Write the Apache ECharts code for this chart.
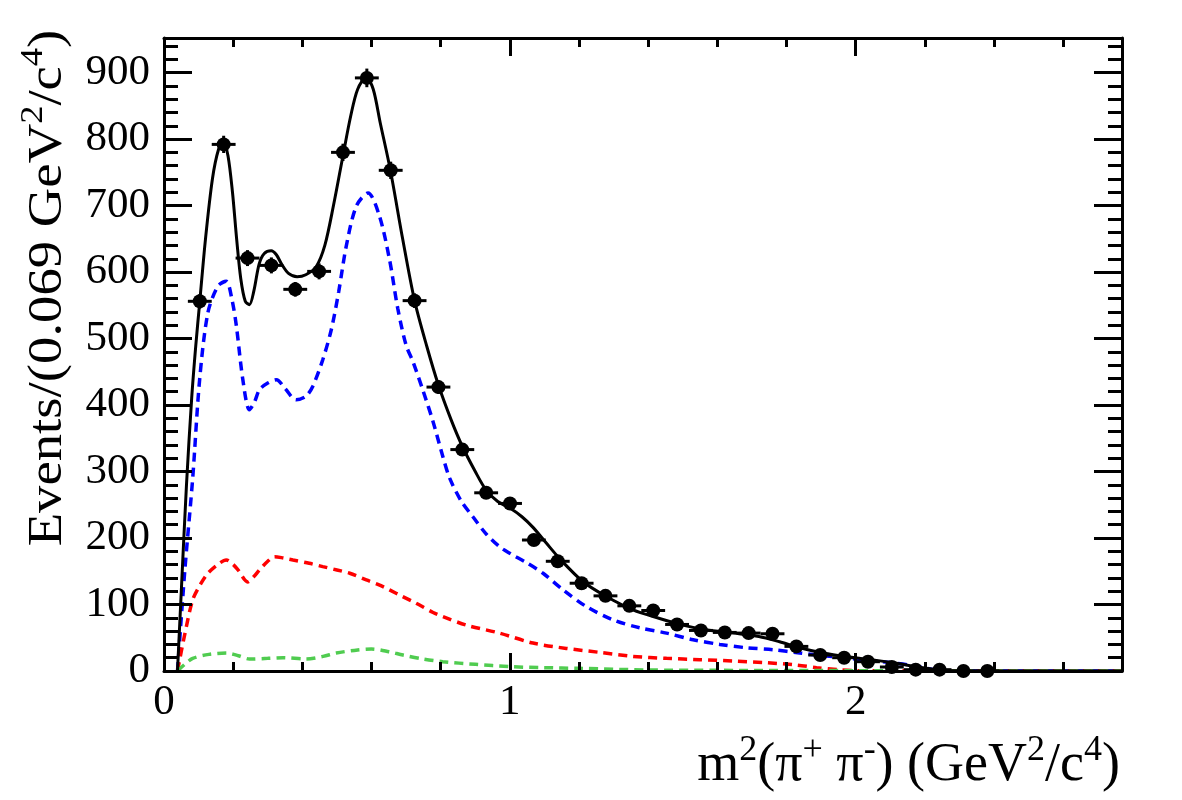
<!DOCTYPE html>
<html>
<head>
<meta charset="utf-8">
<script src="https://cdn.jsdelivr.net/npm/echarts@6/dist/echarts.min.js"></script>
<style>
  html, body { margin: 0; padding: 0; background: #fff; }
  #main { width: 1182px; height: 800px; }
</style>
</head>
<body>
<div id="main"></div>
<script>
  // 数据：m2(pi+ pi-) 分布，bin 宽 0.069
  const binWidth = 0.069
  const binCenters = [0.1035, 0.1725, 0.2415, 0.3105, 0.3795, 0.4485, 0.5175, 0.5865, 0.6555, 0.7245,
    0.7935, 0.8625, 0.9315, 1.0005, 1.0695, 1.1385, 1.2075, 1.2765, 1.3455, 1.4145,
    1.4835, 1.5525, 1.6215, 1.6905, 1.7595, 1.8285, 1.8975, 1.9665, 2.0355, 2.1045,
    2.1735, 2.2425, 2.3115, 2.3805]
  const events = [556, 792, 621, 610, 574, 601, 780, 892, 753, 557,
    427, 333, 268, 252, 197, 165, 132, 113, 98, 91,
    70, 61, 58, 57, 56, 37, 24, 20, 14, 6,
    2, 2, 0, 0]
  const eventErrors = [11, 13, 12, 12, 11, 12, 13, 14, 13, 11,
    10, 9, 8, 8, 7, 6, 6, 5, 5, 5,
    4, 4, 4, 4, 4, 3, 3, 2, 2, 2,
    1, 1, 1, 1]

  // 拟合曲线 [x, y]
  const totalFit = [[0.039, 0], [0.05, 120], [0.065, 280], [0.08, 410], [0.092, 490], [0.1035, 556], [0.12, 650],
    [0.14, 740], [0.158, 785], [0.172, 795], [0.185, 775], [0.198, 720], [0.21, 650], [0.222, 590], [0.235, 556],
    [0.247, 551], [0.26, 572], [0.275, 612], [0.29, 628], [0.31, 632], [0.325, 626], [0.34, 612], [0.36, 598],
    [0.385, 593], [0.41, 596], [0.44, 608], [0.465, 640], [0.49, 700], [0.5175, 775], [0.54, 835], [0.56, 875],
    [0.585, 893], [0.605, 875], [0.625, 825], [0.655, 752], [0.69, 650], [0.7245, 557], [0.76, 488], [0.7935, 430],
    [0.83, 378], [0.8625, 338], [0.9, 300], [0.9315, 272], [0.965, 255], [1.0, 245], [1.035, 232], [1.067, 216],
    [1.106, 192], [1.144, 169], [1.21, 135], [1.279, 112], [1.356, 92], [1.433, 79], [1.5, 69], [1.567, 62],
    [1.645, 57], [1.72, 52], [1.78, 44], [1.838, 35], [1.906, 27], [1.974, 21.5], [2.04, 17.5], [2.108, 12.5],
    [2.176, 6.5], [2.243, 1.5], [2.3, 0], [2.77, 0]]
  const blueCurve = [[0.039, 0], [0.06, 150], [0.083, 290], [0.103, 438], [0.127, 539], [0.156, 579], [0.18, 586],
    [0.196, 560], [0.209, 520], [0.228, 438], [0.247, 393], [0.262, 405], [0.276, 423], [0.3, 433], [0.325, 438],
    [0.35, 425], [0.382, 408], [0.41, 413], [0.43, 428], [0.459, 468], [0.484, 514], [0.505, 570], [0.527, 639],
    [0.556, 699], [0.59, 719], [0.623, 684], [0.652, 619], [0.676, 545], [0.7, 490], [0.72, 465], [0.75, 420],
    [0.778, 375], [0.806, 323], [0.826, 290], [0.86, 255], [0.893, 232], [0.93, 207], [0.97, 187], [1.0, 177],
    [1.048, 163], [1.096, 147], [1.154, 122], [1.221, 97], [1.298, 77], [1.375, 65], [1.453, 57], [1.53, 47],
    [1.607, 40], [1.684, 35], [1.761, 32], [1.838, 27], [1.887, 24], [1.983, 19], [2.079, 14], [2.156, 9],
    [2.234, 1.5], [2.26, 0], [2.77, 0]]
  const redCurve = [[0.039, 0], [0.06, 55], [0.083, 107], [0.105, 130], [0.127, 147], [0.155, 160], [0.18, 167],
    [0.2, 160], [0.214, 152], [0.242, 134], [0.26, 142], [0.276, 152], [0.3, 165], [0.32, 172], [0.345, 170],
    [0.373, 167], [0.42, 162], [0.459, 157], [0.5, 152], [0.537, 147], [0.585, 137], [0.62, 130], [0.652, 122],
    [0.69, 112], [0.729, 102], [0.778, 88], [0.806, 82], [0.874, 69], [0.97, 57], [1.067, 42], [1.163, 34],
    [1.26, 28], [1.356, 22], [1.453, 19], [1.549, 17], [1.645, 15], [1.742, 12.5], [1.829, 9], [1.887, 5],
    [1.95, 2], [2.0, 0.5], [2.77, 0]]
  const greenCurve = [[0.039, 0], [0.06, 10], [0.083, 19], [0.13, 25], [0.18, 27], [0.215, 23], [0.247, 18],
    [0.3, 19], [0.344, 20], [0.411, 18], [0.46, 22], [0.498, 27], [0.55, 31], [0.6, 33], [0.65, 29], [0.691, 24],
    [0.75, 18], [0.806, 14], [0.9, 10], [1.0, 6.5], [1.1, 5], [1.2, 4], [1.4, 1.5], [1.6, 1], [2.0, 0.5],
    [2.3, 0], [2.77, 0]]

  // 坐标轴范围
  const xMin = 0, xMax = 2.77, xMajor = 1
  const yMin = 0, yMax = 952, yMajor = 100

  const font = 'Liberation Serif'

  // 坐标轴：主刻度 + 次刻度（ROOT 风格内刻度，四边框），放在最上层
  function mainAxis(type, position, interval, tickLen, showLabel) {
    let isX = type === 'x'
    return {
      type: 'value',
      position: position,
      z: 10,
      min: isX ? xMin : yMin,
      max: isX ? xMax : yMax,
      interval: interval,
      axisLine: { show: true, onZero: false, lineStyle: { color: '#000', width: 3 } },
      axisTick: { show: true, inside: true, length: tickLen, lineStyle: { color: '#000', width: 3 } },
      minorTick: { show: true, splitNumber: 5, length: tickLen / 2, lineStyle: { color: '#000', width: 3 } },
      axisLabel: {
        show: showLabel,
        color: '#000',
        fontFamily: font,
        fontSize: 43,
        margin: isX ? 10 : 14,
        showMaxLabel: false
      },
      splitLine: { show: false },
      minorSplitLine: { show: false }
    }
  }

  let mycharts = echarts.init(document.getElementById('main'))

  function curve(data, color, dashed, width, z) {
    return {
      type: 'line',
      data: data,
      showSymbol: false,
      smooth: 0.3,
      z: z,
      lineStyle: { color: color, width: width, type: dashed ? [9, 6] : 'solid' }
    }
  }

  mycharts.setOption({
    backgroundColor: '#fff',
    animation: false,
    grid: { left: 164, right: 60, top: 38, bottom: 129 },
    xAxis: [
      mainAxis('x', 'bottom', xMajor, 18, true),
      mainAxis('x', 'top', xMajor, 18, false)
    ],
    yAxis: [
      mainAxis('y', 'left', yMajor, 28, true),
      mainAxis('y', 'right', yMajor, 28, false)
    ],
    series: [
      curve(blueCurve, '#0000ff', true, 3.5, 2),
      curve(redCurve, '#ff0000', true, 3.5, 3),
      curve(greenCurve, '#50cc50', true, 3.5, 4),
      curve(totalFit, '#000', false, 3, 5),
      {
        // 数据点 + 误差棒
        type: 'custom',
        z: 6,
        data: binCenters.map((x, i) => [x, events[i], eventErrors[i]]),
        renderItem: function (params, api) {
          let x = api.value(0), y = api.value(1), e = api.value(2)
          let c = api.coord([x, y])
          let l = api.coord([x - binWidth / 2, y])
          let r = api.coord([x + binWidth / 2, y])
          let t = api.coord([x, y + e])
          let b = api.coord([x, y - e])
          return {
            type: 'group',
            children: [
              { type: 'line', shape: { x1: l[0], y1: l[1], x2: r[0], y2: r[1] }, style: { stroke: '#000', lineWidth: 3 } },
              { type: 'line', shape: { x1: t[0], y1: t[1], x2: b[0], y2: b[1] }, style: { stroke: '#000', lineWidth: 3 } },
              { type: 'circle', shape: { cx: c[0], cy: c[1], r: 7 }, style: { fill: '#000' } }
            ]
          }
        }
      }
    ],
    graphic: [
      {
        // y 轴标题
        type: 'text',
        x: 45,
        y: 288,
        rotation: Math.PI / 2,
        scaleX: 1.14,
        style: {
          text: '{b|Events/(0.069 GeV}{s|2}{b|/c}{s|4}{b|)}',
          align: 'center',
          verticalAlign: 'middle',
          textAlign: 'center',
          textVerticalAlign: 'middle',
          rich: {
            b: { fontFamily: font, fontSize: 48, lineHeight: 54, verticalAlign: 'bottom', fill: '#000' },
            s: { fontFamily: font, fontSize: 32, lineHeight: 32, verticalAlign: 'top', fill: '#000' }
          }
        }
      },
      {
        // x 轴标题
        type: 'text',
        x: 1120,
        y: 763,
        style: {
          text: '{b|m}{s2|2}{b|(π}{s|+}{b| π}{s|-}{b|) (GeV}{s|2}{b|/c}{s|4}{b|)}',
          align: 'right',
          verticalAlign: 'middle',
          textAlign: 'right',
          textVerticalAlign: 'middle',
          rich: {
            b: { fontFamily: font, fontSize: 54, lineHeight: 60, verticalAlign: 'bottom', fill: '#000' },
            s: { fontFamily: font, fontSize: 36, lineHeight: 36, verticalAlign: 'top', fill: '#000' },
            s2: { fontFamily: font, fontSize: 36, lineHeight: 44, verticalAlign: 'top', fill: '#000' }
          }
        }
      }
    ]
  })
</script>
</body>
</html>
